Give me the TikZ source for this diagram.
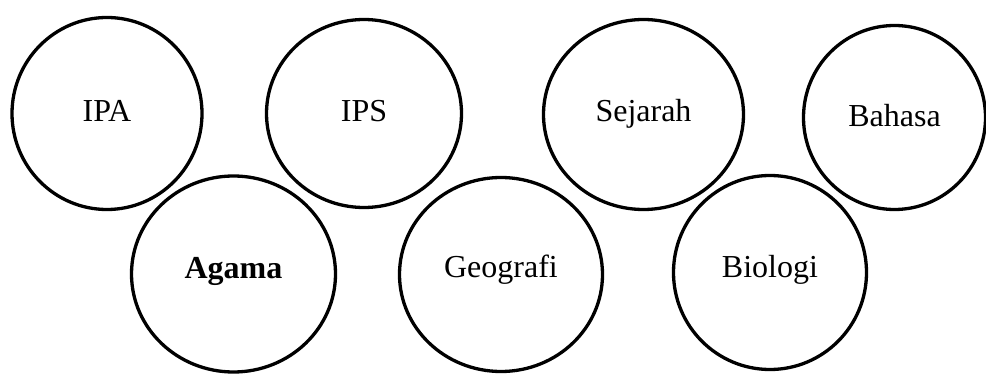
\documentclass[tikz,border=0pt]{standalone}
\usepackage{fontspec}
\setmainfont{Liberation Serif}
\usetikzlibrary{shapes.geometric}
\tikzset{
  bubble/.style={draw=black, line width=3.3pt, ellipse, inner sep=0pt, text depth=0pt, text height=16pt, font=\fontsize{32}{36}\selectfont},
}
\begin{document}
\begin{tikzpicture}[x=1pt,y=-1pt]
\useasboundingbox (0,0) rectangle (986,374);
\node[bubble, minimum width=190pt, minimum height=192pt, text height=17pt] (ipa) at (107,113.5) {IPA};
\node[bubble, minimum width=195pt, minimum height=188pt, text height=17pt] (ips) at (364,113.5) {IPS};
\node[bubble, minimum width=200pt, minimum height=190pt, text height=15pt] (sej) at (643.5,114.5) {Sejarah};
\node[bubble, minimum width=182pt, minimum height=184pt, text height=19pt] (bah) at (894.5,117.5) {Bahasa};
\node[bubble, minimum width=204pt, minimum height=196pt, text height=10pt] (aga) at (233.5,274) {\textbf{Agama}};
\node[bubble, minimum width=203pt, minimum height=194pt, text height=7pt] (geo) at (501,274.5) {Geografi};
\node[bubble, minimum width=193pt, minimum height=194pt, text height=11pt] (bio) at (770,272.5) {Biologi};
\end{tikzpicture}
\end{document}
